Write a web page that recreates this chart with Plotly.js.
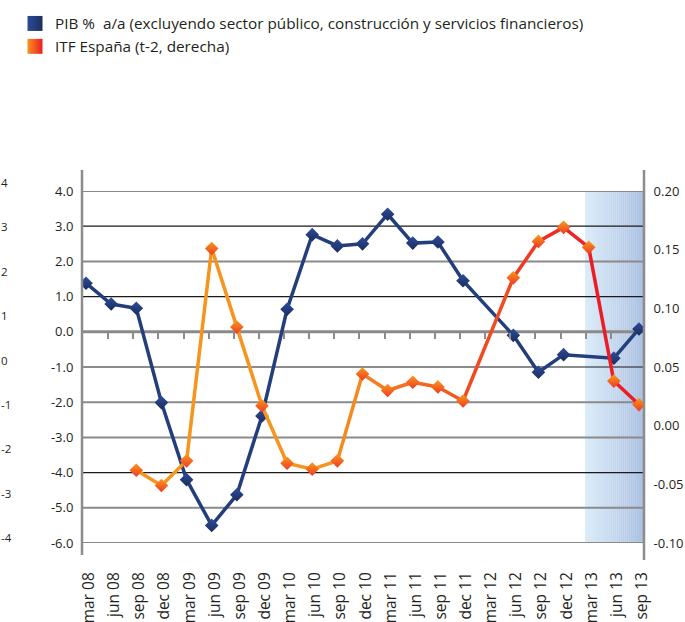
<!DOCTYPE html>
<html><head><meta charset="utf-8">
<script src="https://cdn.plot.ly/plotly-3.0.1.min.js"></script>
<style>html,body{margin:0;padding:0;background:#fff}#chart{width:685px;height:622px}</style>
</head><body><div id="chart"></div>
<script>
// ---- data ----
const categories = ['mar 08','jun 08','sep 08','dec 08','mar 09','jun 09','sep 09','dec 09','mar 10','jun 10','sep 10','dec 10','mar 11','jun 11','sep 11','dec 11','mar 12','jun 12','sep 12','dec 12','mar 13','jun 13','sep 13'];
const pibValues = [1.38, 0.79, 0.67, -2.01, -4.2, -5.5, -4.63, -2.39, 0.64, 2.76, 2.44, 2.5, 3.34, 2.52, 2.55, 1.45, null, -0.1, -1.15, -0.65, null, -0.75, 0.08];
const itfValues = [null, null, -0.038, -0.051, -0.030, 0.151, 0.084, 0.017, -0.032, -0.037, -0.030, 0.044, 0.030, 0.037, 0.033, 0.021, null, 0.126, 0.157, 0.169, 0.152, 0.038, 0.018];
const pibName = 'PIB %  a/a (excluyendo sector público, construcción y servicios financieros)';
const itfName = 'ITF España (t-2, derecha)';
const leftTickVals = [4, 3, 2, 1, 0, -1, -2, -3, -4, -5, -6];
const leftTickText = ['4.0', '3.0', '2.0', '1.0', '0.0', '-1.0', '-2.0', '-3.0', '-4.0', '-5.0', '-6.0'];
const rightTickVals = [0.20, 0.15, 0.10, 0.05, 0.00, -0.05, -0.10];
const rightTickText = ['0.20', '0.15', '0.10', '0.05', '0.00', '-0.05', '-0.10'];
const farTickVals = [4, 3, 2, 1, 0, -1, -2, -3, -4];
const farTickText = ['4', '3', '2', '1', '0', '-1', '-2', '-3', '-4'];
const forecastStart = 'mar 13';

// ---- layout geometry / styles ----
const W = 685, H = 622;
const xDom = [82 / W, 644 / W];
const yDom = [(H - 543) / H, (H - 191) / H];
const leftRange = [-6, 4];
const rightRange = [-0.10, 0.20];
const xRange = [-0.16, 22.2];
const zeroFrac = (0 - leftRange[0]) / (leftRange[1] - leftRange[0]);
const zeroPaper = yDom[0] + zeroFrac * (yDom[1] - yDom[0]);
const farDom = [(H - 543) / H, (H - 175) / H];
const farRange = [-4.113, 4.18];
const font = 'Open Sans, Noto Sans, sans-serif';
const txt = '#231f20';

function hex(c){return [parseInt(c.slice(1,3),16),parseInt(c.slice(3,5),16),parseInt(c.slice(5,7),16)];}
function mix(a,b,t){const A=hex(a),B=hex(b);return 'rgb('+A.map((v,i)=>Math.round(v+(B[i]-v)*t)).join(',')+')';}

const traces = [];
// legend-only dummy entries (square swatches)
traces.push({x:[null], y:[null], type:'scatter', mode:'markers', name:pibName, showlegend:true, hoverinfo:'skip',
  marker:{symbol:'square', size:15, color:'#2d4b9c', gradient:{type:'horizontal', color:'#1b2e5c'}}});
traces.push({x:[null], y:[null], type:'scatter', mode:'markers', name:itfName, showlegend:true, hoverinfo:'skip',
  marker:{symbol:'square', size:15, color:'#f7941d', gradient:{type:'horizontal', color:'#ed1c24'}}});

// ITF line segments with orange -> red colour progression
const valid = [];
itfValues.forEach((v,i)=>{ if (v !== null) valid.push(i); });
for (let k = 0; k < valid.length - 1; k++) {
  const a = valid[k], b = valid[k+1];
  const t = Math.max(0, Math.min(1, ((a + b) / 2 - 9.5) / (20 - 9.5)));
  traces.push({x:[categories[a], categories[b]], y:[itfValues[a], itfValues[b]], type:'scatter', mode:'lines',
    yaxis:'y2', showlegend:false, hoverinfo:'skip', line:{color:mix('#f7941d','#ed1c24',t), width:3.5}});
}
// PIB line
traces.push({x:categories, y:pibValues, type:'scatter', mode:'lines+markers', connectgaps:true, showlegend:false, name:pibName,
  line:{color:'#233e7b', width:3.5},
  marker:{symbol:'diamond', size:10.5, color:'#2f4c9e', gradient:{type:'vertical', color:'#1a2d5a'}}});
// ITF markers
traces.push({x:categories, y:itfValues, type:'scatter', mode:'markers', yaxis:'y2', showlegend:false, name:itfName,
  marker:{symbol:'diamond', size:10.5, color:'#f89a1c', gradient:{type:'vertical', color:'#ee3a24'}}});
// dummy traces to create helper subplots
traces.push({x:[], y:[], xaxis:'x', yaxis:'y3', showlegend:false, hoverinfo:'skip', type:'scatter'});
traces.push({x:[], y:[], xaxis:'x3', yaxis:'y4', showlegend:false, hoverinfo:'skip', type:'scatter'});

// shapes: shaded forecast band (gradient strips), grid lines, axis lines
const shapes = [];
const x0Band = categories.indexOf(forecastStart) - 0.15, x1Band = xRange[1];
const N = 30;
for (let i = 0; i < N; i++) {
  shapes.push({type:'rect', xref:'x', yref:'paper', layer:'below', line:{width:0},
    x0: x0Band + (x1Band - x0Band) * i / N, x1: x0Band + (x1Band - x0Band) * (i + 1) / N + 0.01,
    y0: yDom[0], y1: yDom[1], fillcolor: mix('#dcedf9', '#abc0e2', i / (N - 1))});
}
const grayLines = [4, 2, 0, -2, -3, -5, -6];
leftTickVals.forEach(v => {
  const gray = grayLines.includes(v);
  shapes.push({type:'line', xref:'paper', yref:'y', layer:'below', x0:xDom[0], x1:xDom[1], y0:v, y1:v,
    line:{color: gray ? '#8a8a8a' : '#1a1a1a', width: v === 0 ? 3 : (gray ? 2 : 1.2)}});
});
shapes.push({type:'line', xref:'paper', yref:'paper', x0:xDom[0], x1:xDom[0], y0:(H-555)/H, y1:(H-170)/H, line:{color:'#8c8c8c', width:2.5}});
shapes.push({type:'line', xref:'paper', yref:'paper', x0:xDom[1], x1:xDom[1], y0:(H-560)/H, y1:(H-170)/H, line:{color:'#8c8c8c', width:2.5}});

const zeroTicks = [];
for (let i = 1; i < categories.length - 1; i++) zeroTicks.push(i - 0.12);

const layout = {
  width: W, height: H,
  margin: {l:0, r:0, t:0, b:0},
  paper_bgcolor: '#ffffff', plot_bgcolor: 'rgba(0,0,0,0)',
  font: {family: font, color: txt, size: 13},
  showlegend: true,
  legend: {x: 15 / W, y: 1 - 7 / H, xanchor: 'left', yanchor: 'top', bgcolor: 'rgba(0,0,0,0)',
    font: {family: font, size: 15.3, color: txt}, tracegroupgap: 0, itemclick: false},
  xaxis: {domain: xDom, type: 'category', categoryorder: 'array', categoryarray: categories, range: xRange,
    showgrid: false, zeroline: false, showline: false,
    ticks: 'outside', ticklen: 22, tickcolor: 'rgba(0,0,0,0)', tickangle: -90, ticklabelshift: 3,
    tickfont: {family: font, size: 15.5, color: txt}, anchor: 'y'},
  yaxis: {domain: yDom, range: leftRange, tickvals: leftTickVals, ticktext: leftTickText, showgrid: false,
    zeroline: false, showline: false, ticks: 'outside', ticklen: 5, tickcolor: 'rgba(0,0,0,0)',
    tickfont: {family: font, size: 13, color: txt}, anchor: 'x'},
  yaxis2: {overlaying: 'y', side: 'right', range: rightRange, tickvals: rightTickVals, ticktext: rightTickText,
    showgrid: false, zeroline: false, showline: false, ticks: 'outside', ticklen: 6, tickcolor: 'rgba(0,0,0,0)',
    tickfont: {family: font, size: 13, color: txt}, anchor: 'x'},
  yaxis3: {domain: farDom, side: 'right', anchor: 'free', position: 0, range: farRange,
    tickvals: farTickVals, ticktext: farTickText, showgrid: false, zeroline: false, showline: false, ticks: '',
    tickfont: {family: font, size: 11.5, color: txt}},
  yaxis4: {domain: [zeroPaper, yDom[1]], range: [0, 1], showgrid: false, zeroline: false, showline: false,
    showticklabels: false, ticks: '', anchor: 'x3'},
  xaxis3: {overlaying: 'x', anchor: 'y4', side: 'bottom', type: 'linear', range: xRange, tickvals: zeroTicks,
    showticklabels: false, ticks: 'outside', ticklen: 6, tickwidth: 2, tickcolor: '#8c8c8c',
    showgrid: false, zeroline: false, showline: false},
  shapes: shapes
};

Plotly.newPlot('chart', traces, layout, {displayModeBar: false, staticPlot: true});
</script></body></html>
